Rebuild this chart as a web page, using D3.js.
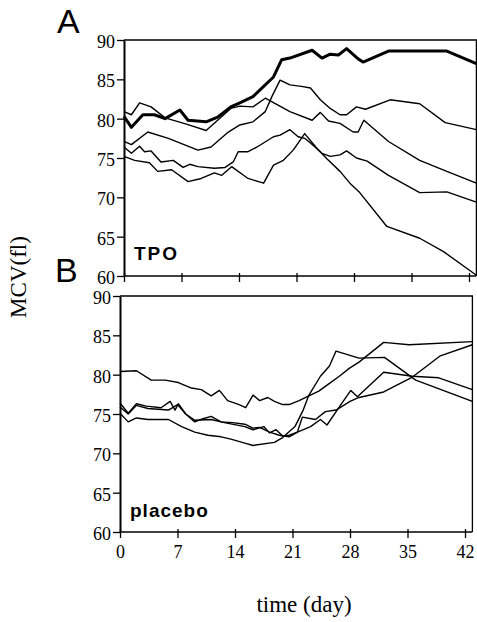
<!DOCTYPE html>
<html>
<head>
<meta charset="utf-8">
<script src="https://cdn.jsdelivr.net/npm/d3@7"></script>
<style>
  body { margin: 0; background: #fff; }
  svg { display: block; }
  .tick text { font-family: 'Liberation Serif', 'Times New Roman', serif; font-size: 18px; fill: #000; }
  .tick line, .domain { stroke: #000; }
</style>
</head>
<body>
<script>
// tick values
const dayTicks = [0, 7, 14, 21, 28, 35, 42]
const mcvTicks = [60, 65, 70, 75, 80, 85, 90]

// panel A: TPO, [day, MCV]
const tpoBold = [[0,80.3],[0.9,78.9],[2.3,80.5],[3.7,80.5],[5,80.0],[6.8,81.1],[7.8,79.8],[10,79.6],[11.4,80.2],[13,81.5],[14.1,82.0],[15.7,82.8],[18.2,85.3],[19.2,87.5],[20.2,87.7],[22.9,88.7],[24.1,87.7],[25.1,88.2],[26.1,88.1],[27.1,88.9],[28.5,87.6],[29.1,87.2],[32.2,88.6],[39.3,88.6],[42.9,87.0]]
const tpo2 = [[0,80.9],[0.9,80.5],[1.9,82.0],[3.3,81.5],[5,80.1],[7.6,79.3],[10,78.5],[11.4,79.8],[13,81.3],[14.1,81.6],[15.7,81.5],[17.2,82.6],[20.2,80.9],[22.9,79.8],[23.9,80.8],[24.9,79.7],[26.3,79.4],[27.9,78.3],[28.5,78.3],[29.2,79.8],[32.2,77.1],[36,74.7],[39.3,73.3],[42.9,71.8]]
const tpo3 = [[0,77.1],[0.9,76.7],[2.9,78.3],[5.4,77.5],[9,76.0],[10.6,76.4],[12.7,78.3],[14.1,79.2],[15.7,79.6],[17.2,80.9],[18,82.8],[19,84.9],[20.2,84.3],[21.6,84.1],[22.7,83.9],[23.9,82.4],[25.1,81.3],[26.3,80.5],[27.1,80.5],[28.3,81.5],[29.4,81.2],[32.4,82.4],[36,81.9],[39.1,79.5],[42.9,78.6]]
const tpo4 = [[0,76.4],[0.9,75.6],[1.9,76.5],[2.5,75.8],[3.3,75.9],[4.5,74.5],[6,74.7],[7.2,73.8],[8,74.2],[9,73.9],[11,73.7],[12.3,73.8],[13.3,74.5],[13.9,75.8],[15.1,75.8],[16.2,76.4],[18.2,77.7],[19,77.9],[20.2,78.6],[21.2,77.7],[22,77.5],[22.7,76.9],[24.1,75.6],[25.1,75.2],[26.3,75.4],[27.1,75.9],[28.3,75.0],[29.6,74.6],[32.2,72.8],[36,70.6],[39.3,70.7],[42.9,69.4]]
const tpo5 = [[0,75.2],[1.3,74.7],[3.1,74.4],[4.1,73.3],[5.8,73.5],[7.8,72.0],[9.4,72.4],[11,73.1],[11.9,72.8],[13.1,73.9],[15.1,72.4],[17,71.8],[18.2,74.1],[19.4,74.7],[20.6,76.0],[22,78.1],[23.5,76.2],[24.7,74.9],[26.3,73.3],[27.5,71.8],[28.7,70.6],[32,66.3],[36,64.8],[38.9,63.1],[42.9,60.1]]

// panel B: placebo, [day, MCV]
const placebo1 = [[0,80.4],[2,80.5],[3.8,79.3],[5.5,79.3],[7.1,79.0],[8.7,78.3],[9.9,78.1],[11.1,77.3],[12.1,78.0],[13.1,76.7],[14.5,76.2],[15.3,75.8],[16.2,77.4],[17,76.7],[18,77.1],[18.8,76.6],[19.8,76.2],[20.6,76.2],[21.8,76.7],[23,77.3],[24.2,77.9],[25.5,78.9],[26.7,79.8],[27.9,80.8],[29.1,81.6],[32.1,84.1],[35.2,83.8],[42.9,84.2]]
const placebo2 = [[0,76.4],[1,75.1],[2,76.3],[3.2,76.0],[5,75.8],[6.1,76.6],[6.7,75.5],[7.1,76.3],[8,75.0],[9.1,74.0],[10.1,74.4],[11.1,74.7],[12.3,74.0],[13.7,73.9],[15.2,73.7],[16.2,73.2],[17,73.3],[18.2,72.7],[19.4,72.3],[20.6,72.1],[21.6,72.7],[22.2,74.6],[23.8,74.3],[25,75.3],[26.3,75.5],[28,76.6],[29.1,77.1],[32.1,77.8],[35.6,79.7],[39,82.4],[42.9,83.8]]
const placebo3 = [[0,75.9],[1,75.0],[2,76.1],[3.4,75.7],[5.9,75.5],[7,76.2],[8,75.0],[9.1,74.2],[11.1,74.3],[12.7,73.9],[15.2,73.4],[16.2,73.0],[17.5,73.4],[18.2,72.6],[19,73.0],[19.8,72.2],[20.6,72.3],[21.6,72.7],[23.2,73.4],[24.4,74.3],[25.2,73.6],[26.7,75.9],[28.1,78.0],[28.9,77.2],[32.1,80.3],[35.6,79.8],[38.8,79.6],[42.9,78.1]]
const placebo4 = [[0,75.1],[1,74.0],[2,74.5],[3.4,74.3],[5.9,74.3],[7.5,73.4],[9.1,72.7],[10.7,72.3],[12.3,72.1],[13.5,71.8],[15.2,71.3],[16.2,71.0],[18.8,71.4],[19.8,72.0],[21.3,73.4],[22.3,75.5],[23,77.4],[24.4,79.8],[25.5,81.1],[26.3,83.0],[29.1,82.1],[32.2,82.2],[36,79.3],[42.9,76.6]]

const w = 477
const h = 622
const dayMax = 42.9

const svg = d3.select('body').append('svg').attr('width', w).attr('height', h)

function drawPanel(cfg) {
  const x = d3.scaleLinear().domain([0, 42]).range([cfg.left, cfg.left + 345])
  const y = d3.scaleLinear().domain([60, 90]).range([cfg.bottom, cfg.top])
  const g = svg.append('g')

  // top and right frame
  g.append('path')
    .attr('d', `M${x(0)},${y(90)}H${x(dayMax)}V${y(60)}`)
    .attr('fill', 'none')
    .attr('stroke', '#000')
    .attr('stroke-width', 1.3)

  const line = d3.line().x((d) => x(d[0])).y((d) => y(d[1]))
  cfg.series.forEach((s, i) => {
    g.append('path')
      .datum(s)
      .attr('d', line)
      .attr('fill', 'none')
      .attr('stroke', '#000')
      .attr('stroke-width', i === cfg.bold ? 3 : 1.4)
      .attr('stroke-linejoin', 'round')
  })

  const xAxis = d3.axisBottom(x).tickValues(dayTicks).tickSize(6).tickSizeOuter(0).tickPadding(7)
  if (!cfg.xLabels) xAxis.tickFormat('')
  g.append('g')
    .attr('transform', `translate(0,${y(60)})`)
    .call(xAxis)
    .call((a) => a.select('.domain').attr('d', `M${x(0)},0H${x(dayMax)}`).attr('stroke-width', 1.5))
    .call((a) => a.selectAll('.tick line').attr('y1', -3).attr('stroke-width', 1.3))

  g.append('g')
    .attr('transform', `translate(${x(0)},0)`)
    .call(d3.axisLeft(y).tickValues(mcvTicks).tickSize(7).tickSizeOuter(0).tickPadding(2))
    .call((a) => a.select('.domain').attr('stroke-width', 2))
    .call((a) => a.selectAll('.tick line').attr('stroke-width', 1.3))
    .call((a) => a.selectAll('.tick text').attr('dy', '0.42em'))

  g.append('text')
    .text(cfg.letter)
    .attr('x', cfg.letterX)
    .attr('y', cfg.letterY)
    .style('font-family', "'Liberation Sans', Arial, sans-serif")
    .style('font-size', '34px')

  g.append('text')
    .text(cfg.name)
    .attr('x', x(0) + 10)
    .attr('y', cfg.nameY)
    .style('font-family', "'Liberation Sans', Arial, sans-serif")
    .style('font-weight', 'bold')
    .style('font-size', '19px')
    .style('letter-spacing', cfg.spacing)
}

drawPanel({
  left: 124, top: 40, bottom: 276,
  series: [tpoBold, tpo2, tpo3, tpo4, tpo5], bold: 0,
  xLabels: false, letter: 'A', letterX: 57, letterY: 33,
  name: 'TPO', nameY: 260, spacing: '2px'
})

drawPanel({
  left: 120, top: 296, bottom: 532,
  series: [placebo1, placebo2, placebo3, placebo4], bold: -1,
  xLabels: true, letter: 'B', letterX: 55, letterY: 282,
  name: 'placebo', nameY: 517, spacing: '1px'
})

//y axis label
svg.append('text')
  .text('MCV(fl)')
  .attr('transform', 'rotate(-90)')
  .attr('x', -277)
  .attr('y', 26)
  .attr('text-anchor', 'middle')
  .style('font-family', "'Liberation Serif', 'Times New Roman', serif")
  .style('font-size', '23px')

//x axis label
svg.append('text')
  .text('time (day)')
  .attr('x', 304)
  .attr('y', 612)
  .attr('text-anchor', 'middle')
  .style('font-family', "'Liberation Serif', 'Times New Roman', serif")
  .style('font-size', '23px')
</script>
</body>
</html>
